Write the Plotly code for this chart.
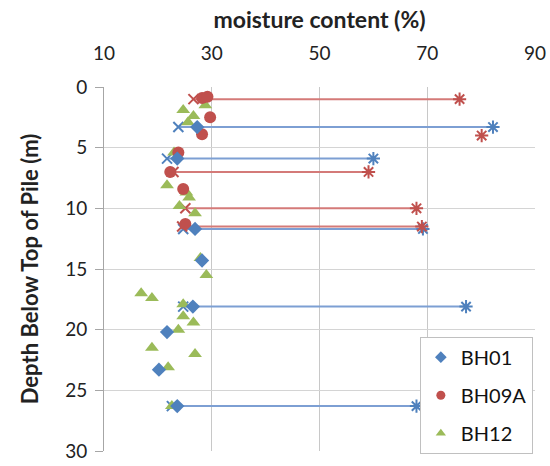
import plotly.graph_objects as go

# Moisture content points (x = moisture %, y = depth m)
bh01_mc = [27.3, 23.6, 26.9, 28.2, 26.5, 21.7, 20.2, 23.6]
bh01_depth = [3.3, 5.9, 11.7, 14.3, 18.1, 20.2, 23.3, 26.3]

bh09a_mc = [28.2, 29.2, 29.7, 28.2, 23.8, 22.3, 24.7, 25.1]
bh09a_depth = [0.9, 0.8, 2.5, 3.9, 5.4, 7.0, 8.4, 11.3]

bh12_mc = [28.8, 24.7, 26.6, 25.6, 23.0, 21.7, 25.3, 25.8, 24.0, 26.9, 27.9, 29.0,
           16.9, 18.9, 24.7, 24.7, 26.6, 23.8, 18.9, 26.9, 21.9, 22.6]
bh12_depth = [1.5, 1.9, 2.4, 2.9, 5.4, 8.1, 8.7, 9.1, 9.8, 10.4, 14.1, 15.5,
              17.0, 17.4, 17.9, 18.9, 19.4, 20.0, 21.5, 22.0, 23.1, 26.3]

# Atterberg ranges: plastic limit (left) to liquid limit (right)
bh01_pl = [23.8, 21.7, 24.7, 24.7, 22.6]
bh01_ll = [82.2, 60.0, 69.2, 77.2, 68.0]
bh01_lim_depth = [3.3, 5.9, 11.7, 18.1, 26.3]

bh09a_pl = [26.6, None, 22.9, 25.1, 24.5]
bh09a_ll = [76.0, 80.1, 59.1, 68.0, 69.0]
bh09a_lim_depth = [1.0, 4.0, 7.0, 10.0, 11.5]

series_names = ["BH01", "BH09A", "BH12"]

BLUE = "#4F81BD"
RED = "#C0504D"
GREEN = "#9BBB59"
BLUE_L = "#7D9FD3"
RED_L = "#D47A78"

fig = go.Figure()

def add_ranges(pl, ll, depth, color, lcolor):
    for p, l, d in zip(pl, ll, depth):
        if p is not None:
            fig.add_trace(go.Scatter(x=[p, l], y=[d, d], mode="lines",
                                     line=dict(color=lcolor, width=2),
                                     showlegend=False, hoverinfo="skip"))
            fig.add_trace(go.Scatter(x=[p], y=[d], mode="markers",
                                     marker=dict(symbol="x-thin", size=10,
                                                 line=dict(color=color, width=2)),
                                     showlegend=False, hoverinfo="skip"))
        fig.add_trace(go.Scatter(x=[l], y=[d], mode="markers",
                                 marker=dict(symbol="asterisk", size=11,
                                             line=dict(color=color, width=2)),
                                 showlegend=False, hoverinfo="skip"))

add_ranges(bh01_pl, bh01_ll, bh01_lim_depth, BLUE, BLUE_L)
add_ranges(bh09a_pl, bh09a_ll, bh09a_lim_depth, RED, RED_L)

fig.add_trace(go.Scatter(x=bh12_mc, y=bh12_depth, mode="markers", showlegend=False,
                         marker=dict(symbol="triangle-up", size=12, color=GREEN)))
fig.add_trace(go.Scatter(x=bh09a_mc, y=bh09a_depth, mode="markers", showlegend=False,
                         marker=dict(symbol="circle", size=12, color=RED)))
fig.add_trace(go.Scatter(x=bh01_mc, y=bh01_depth, mode="markers", showlegend=False,
                         marker=dict(symbol="diamond", size=11, color=BLUE)))

# legend entries with small symbols
for name, sym, col, sz, g in [(series_names[0], "diamond", BLUE, 9, "a"),
                              (series_names[1], "circle", RED, 9, "b"),
                              (series_names[2], "triangle-up", GREEN, 9, "c")]:
    fig.add_trace(go.Scatter(x=[None], y=[None], mode="markers", name=name,
                             legendgroup=g, marker=dict(symbol=sym, size=sz, color=col)))

FONT = "Lato"
fig.update_layout(
    width=550, height=466,
    margin=dict(l=104, r=15, t=87, b=13),
    paper_bgcolor="white", plot_bgcolor="white",
    font=dict(family=FONT, size=19, color="#222222"),
    showlegend=True,
    legend=dict(x=0.995, y=0.314, xanchor="right", yanchor="top",
                bgcolor="white", bordercolor="#c0c0c0", borderwidth=1,
                font=dict(size=20, family=FONT, color="#111111"),
                traceorder="grouped", tracegroupgap=9,
                itemwidth=30),
    xaxis=dict(side="top", range=[10, 90], tickvals=[10, 30, 50, 70, 90],
               showgrid=True, gridcolor="#c8c8c8", gridwidth=1,
               zeroline=False, showline=False, ticks="", automargin=False,
               ticklabelstandoff=22,
               title=dict(text="<b>moisture content (%)</b>", standoff=6,
                          font=dict(size=23, family=FONT))),
    yaxis=dict(range=[30, 0], tickvals=[0, 5, 10, 15, 20, 25, 30],
               showgrid=True, gridcolor="#d4d4d4", gridwidth=1, automargin=False,
               zeroline=False, showline=True, linecolor="#a6a6a6", linewidth=1,
               ticks="outside", ticklen=8, tickcolor="#a6a6a6",
               ticklabelstandoff=4,
               title=dict(text="<b>Depth Below Top of Pile (m)</b>", standoff=20,
                          font=dict(size=22, family=FONT))),
)

fig.write_html("out.html")
